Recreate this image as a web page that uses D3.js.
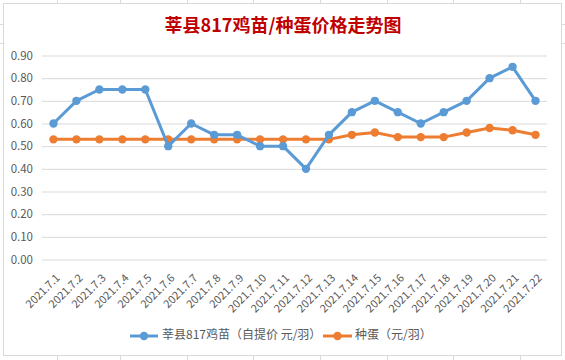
<!DOCTYPE html>
<html><head><meta charset="utf-8">
<script src="https://cdn.jsdelivr.net/npm/d3@7/dist/d3.min.js"></script>
<style>body{margin:0;background:#fff;}svg{display:block;}</style>
</head><body>
<svg id="c" width="565" height="360"></svg>
<script>
const categories = ["2021.7.1","2021.7.2","2021.7.3","2021.7.4","2021.7.5","2021.7.6","2021.7.7","2021.7.8","2021.7.9","2021.7.10","2021.7.11","2021.7.12","2021.7.13","2021.7.14","2021.7.15","2021.7.16","2021.7.17","2021.7.18","2021.7.19","2021.7.20","2021.7.21","2021.7.22"];
const chickValues = [0.60,0.70,0.75,0.75,0.75,0.50,0.60,0.55,0.55,0.50,0.50,0.40,0.55,0.65,0.70,0.65,0.60,0.65,0.70,0.80,0.85,0.70];
const eggValues = [0.53,0.53,0.53,0.53,0.53,0.53,0.53,0.53,0.53,0.53,0.53,0.53,0.53,0.55,0.56,0.54,0.54,0.54,0.56,0.58,0.57,0.55];
const yTicks = [0,0.1,0.2,0.3,0.4,0.5,0.6,0.7,0.8,0.9];
const seriesNames = ["莘县817鸡苗（自提价 元/羽）","种蛋（元/羽）"];
const title = "莘县817鸡苗/种蛋价格走势图";

const svg = d3.select("#c");
const font = "'Noto Sans CJK SC','Microsoft YaHei',sans-serif";

// faint spreadsheet grid outside the chart
const bg = svg.append("g").attr("stroke","#dadada").attr("stroke-width",1);
[24,43].forEach(y=>{bg.append("line").attr("x1",0).attr("x2",3).attr("y1",y+0.5).attr("y2",y+0.5);bg.append("line").attr("x1",562).attr("x2",565).attr("y1",y+0.5).attr("y2",y+0.5);});
[57,120,187,253,320,387,453,520].forEach(x=>{bg.append("line").attr("x1",x+0.5).attr("x2",x+0.5).attr("y1",0).attr("y2",3);bg.append("line").attr("x1",x+0.5).attr("x2",x+0.5).attr("y1",356).attr("y2",360);});

// chart border
svg.append("rect").attr("x",3.5).attr("y",3.5).attr("width",558).attr("height",352)
  .attr("fill","#fff").attr("stroke","#d9d9d9");

const x = d3.scaleBand().domain(categories).range([42,547]);
const y = d3.scaleLinear().domain([0,0.9]).range([259.5,55.5]);

// title
svg.append("text").attr("x",283).attr("y",32).attr("text-anchor","middle")
  .attr("font-family",font).attr("font-weight","bold").attr("font-size",18)
  .attr("fill","#c00000").text(title);

// gridlines + y labels
const yAxis = d3.axisLeft(y).tickValues(yTicks).tickSize(-(547-42)).tickFormat(d3.format(".2f")).tickPadding(9);
const ga = svg.append("g").attr("transform","translate(42,0)").call(yAxis);
ga.select(".domain").remove();
ga.selectAll(".tick line").attr("stroke","#d9d9d9");
ga.selectAll(".tick text").attr("font-family",font).attr("font-size",11.5).attr("fill","#595959");

// x labels
const xAxis = d3.axisBottom(x).tickSize(0).tickPadding(0);
const gx = svg.append("g").attr("transform","translate(0,259.5)").call(xAxis);
gx.select(".domain").remove();
gx.selectAll(".tick text").attr("font-family",font).attr("font-size",11).attr("fill","#595959")
  .attr("text-anchor","end").attr("dy",0).attr("dominant-baseline","middle")
  .attr("transform","translate(5,17) rotate(-45)");

const cx = d => x(d) + x.bandwidth()/2;
const colors = ["#5b9bd5","#ed7d31"];
[[eggValues,1],[chickValues,0]].forEach(([vals,i])=>{
  const line = d3.line().x((d,j)=>cx(categories[j])).y(d=>y(d));
  svg.append("path").datum(vals).attr("d",line).attr("fill","none")
    .attr("stroke",colors[i]).attr("stroke-width",3).attr("stroke-linejoin","round");
  svg.append("g").selectAll("circle").data(vals).join("circle")
    .attr("cx",(d,j)=>cx(categories[j])).attr("cy",d=>y(d)).attr("r",4.2).attr("fill",colors[i]);
});

// legend
const leg = [{x1:130,x2:158,tx:162,i:0},{x1:323,x2:352,tx:355,i:1}];
leg.forEach(l=>{
  svg.append("line").attr("x1",l.x1).attr("x2",l.x2).attr("y1",336).attr("y2",336).attr("stroke",colors[l.i]).attr("stroke-width",3);
  svg.append("circle").attr("cx",(l.x1+l.x2)/2).attr("cy",336).attr("r",4.2).attr("fill",colors[l.i]);
  svg.append("text").attr("x",l.tx).attr("y",336).attr("dominant-baseline","middle")
    .attr("font-family",font).attr("font-size",12).attr("fill","#595959").text(seriesNames[l.i]);
});
</script>
</body></html>
